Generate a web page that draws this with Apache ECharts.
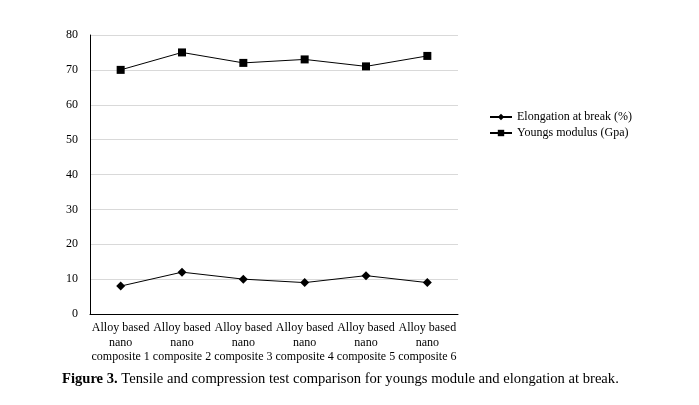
<!DOCTYPE html>
<html><head><meta charset="utf-8">
<script src="https://cdn.jsdelivr.net/npm/echarts@6/dist/echarts.min.js"></script>
<style>html,body{margin:0;padding:0;background:#fff}#c{width:699px;height:405px}</style>
</head><body><div id="c"></div>
<script>
var categories = ['Alloy based nano composite 1','Alloy based nano composite 2','Alloy based nano composite 3','Alloy based nano composite 4','Alloy based nano composite 5','Alloy based nano composite 6'];
var elongation = [8, 12, 10, 9, 11, 9];
var youngs = [70, 75, 72, 73, 71, 74];
var yTicks = [0, 10, 20, 30, 40, 50, 60, 70, 80];
var F = '"Liberation Serif","Times New Roman",serif';
var chart = echarts.init(document.getElementById('c'));
chart.setOption({
  animation: false,
  backgroundColor: '#fff',
  grid: {left: 90, right: 241, top: 35, bottom: 91},
  legend: {
    orient: 'vertical', left: 484, top: 106, itemGap: 4, itemWidth: 22, itemHeight: 8,
    textStyle: {fontFamily: F, fontSize: 12, color: '#000'},
    data: ['Elongation at break (%)', 'Youngs modulus (Gpa)']
  },
  xAxis: {
    type: 'category', data: categories, boundaryGap: true,
    axisLine: {lineStyle: {color: '#000', width: 1}},
    axisTick: {show: false},
    axisLabel: {interval: 0, fontFamily: F, fontSize: 12, color: '#000', lineHeight: 14.5, margin: 7,
      formatter: function(v){ return v.replace('based nano composite', 'based\nnano\ncomposite'); }}
  },
  yAxis: {
    type: 'value', min: yTicks[0], max: yTicks[yTicks.length-1], interval: 10,
    axisLine: {show: true, lineStyle: {color: '#000', width: 1}},
    axisTick: {show: false},
    axisLabel: {fontFamily: F, fontSize: 12, color: '#000', margin: 12},
    splitLine: {lineStyle: {color: '#d9d9d9', width: 1}}
  },
  series: [
    {name: 'Elongation at break (%)', type: 'line', data: elongation, symbol: 'diamond', symbolSize: 9,
      lineStyle: {color: '#000', width: 1}, itemStyle: {color: '#000'}},
    {name: 'Youngs modulus (Gpa)', type: 'line', data: youngs, symbol: 'rect', symbolSize: 8,
      lineStyle: {color: '#000', width: 1}, itemStyle: {color: '#000'}}
  ],
  graphic: [{
    type: 'text', left: 62, top: 372,
    style: {
      text: '{b|Figure 3.} Tensile and compression test comparison for youngs module and elongation at break.',
      font: '14.6px ' + F, fill: '#000',
      rich: {b: {fontWeight: 'bold', fontFamily: F, fontSize: 14.6, fill: '#000'}}
    }
  }]
});
</script></body></html>
